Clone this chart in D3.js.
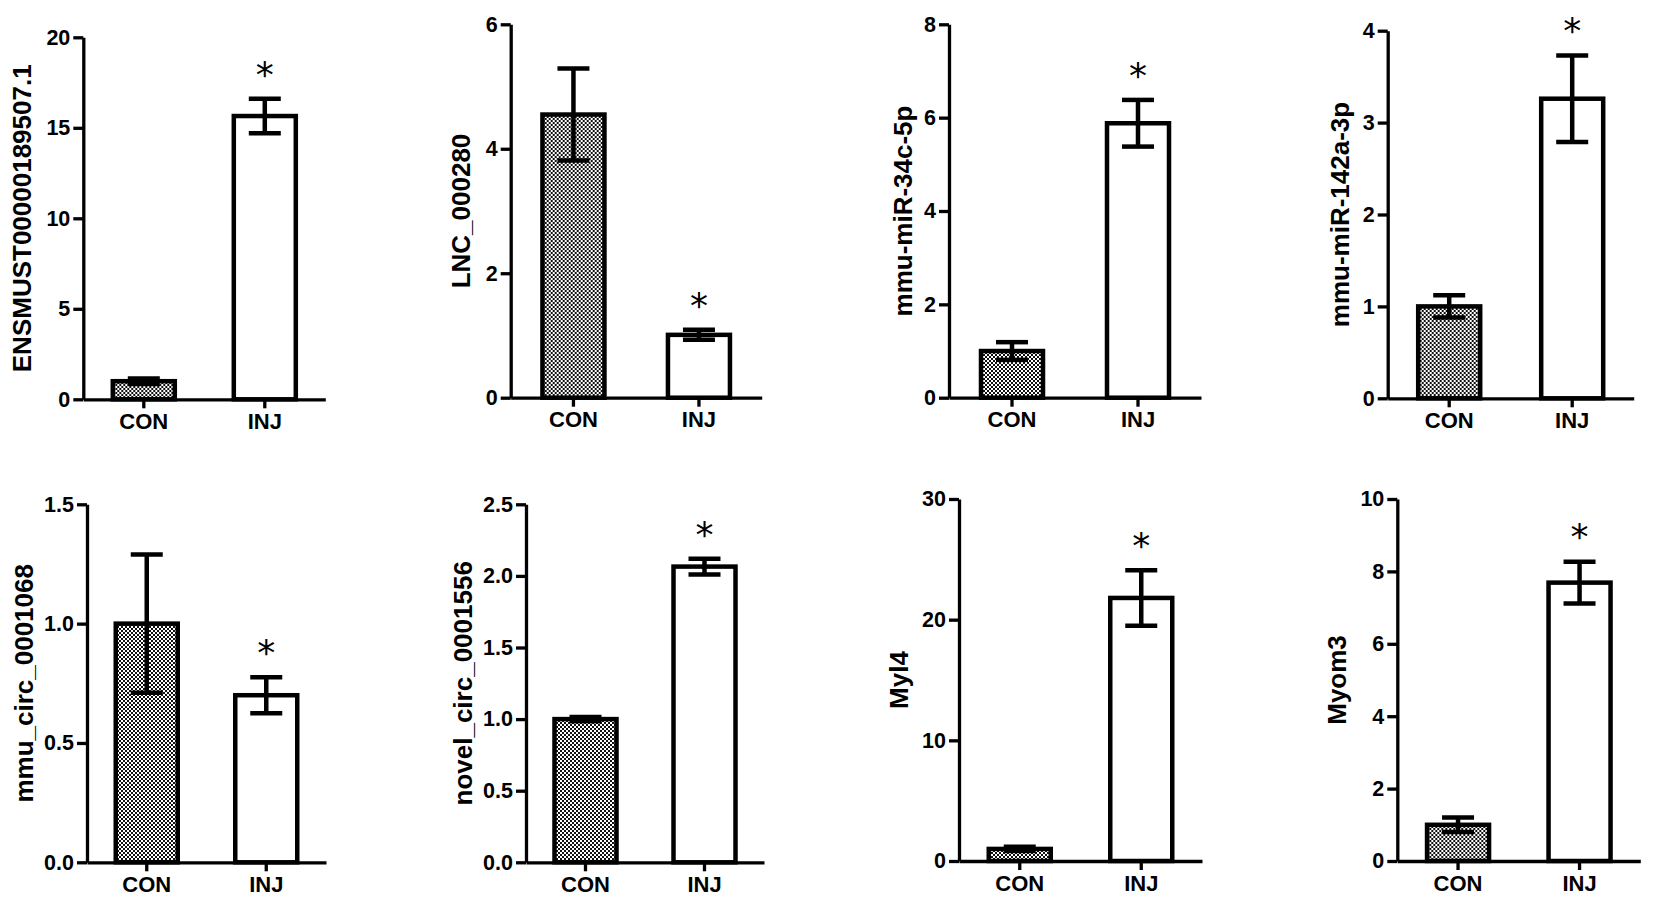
<!DOCTYPE html>
<html>
<head>
<meta charset="utf-8">
<script src="https://cdn.jsdelivr.net/npm/d3@7"></script>
<style>
  body { margin: 0; background: #fff; }
  svg text { font-family: "Liberation Sans", Arial, sans-serif; font-weight: bold; fill: #000; }
  svg text.star { font-family: "DejaVu Sans", sans-serif; font-weight: normal; }
</style>
</head>
<body>
<div id="chart"></div>
<script>
// data
const groups = ["CON", "INJ"];
const titles = ["ENSMUST00000189507.1", "LNC_000280", "mmu-miR-34c-5p", "mmu-miR-142a-3p",
                "mmu_circ_0001068", "novel_circ_0001556", "Myl4", "Myom3"];
const conMean = [1.0, 4.55, 1.0, 1.0, 1.0, 1.0, 1.0, 1.0];
const conErr  = [0.15, 0.74, 0.19, 0.12, 0.29, 0.015, 0.18, 0.2];
const injMean = [15.65, 1.01, 5.88, 3.26, 0.70, 2.065, 21.8, 7.69];
const injErr  = [0.95, 0.08, 0.5, 0.47, 0.075, 0.055, 2.3, 0.58];
const signif  = [true, true, true, true, true, true, true, true];
const yTicks = [
  [0, 5, 10, 15, 20],
  [0, 2, 4, 6],
  [0, 2, 4, 6, 8],
  [0, 1, 2, 3, 4],
  [0, 0.5, 1.0, 1.5],
  [0, 0.5, 1.0, 1.5, 2.0, 2.5],
  [0, 10, 20, 30],
  [0, 2, 4, 6, 8, 10]
];
const tickFormats = ["d", "d", "d", "d", ".1f", ".1f", "d", "d"];

// panel frames (axis x, top of y axis, zero line, x axis length, title offset)
const frames = [
  {ax: 83.3,   top: 37.3,  zero: 399.3, w: 242, tdx: -61},
  {ax: 510.7,  top: 24.3,  zero: 397.7, w: 251, tdx: -50},
  {ax: 949,    top: 24.3,  zero: 397.7, w: 252, tdx: -46.5},
  {ax: 1387.7, top: 30.7,  zero: 398.3, w: 246, tdx: -47.7},
  {ax: 87,     top: 504.3, zero: 862.3, w: 239, tdx: -63},
  {ax: 526,    top: 504.3, zero: 862.3, w: 238, tdx: -63.5},
  {ax: 959,    top: 499,   zero: 861,   w: 243, tdx: -60},
  {ax: 1397.3, top: 499,   zero: 861,   w: 243, tdx: -60}
];

const svg = d3.select("#chart").append("svg")
  .attr("width", 1654)
  .attr("height", 906);

// checker fill for the control bars
const pat = svg.append("defs").append("pattern")
  .attr("id", "checker")
  .attr("patternUnits", "userSpaceOnUse")
  .attr("width", 4).attr("height", 4);
pat.append("rect").attr("width", 4).attr("height", 4).attr("fill", "#fff");
pat.append("rect").attr("width", 2).attr("height", 2).attr("fill", "#111");
pat.append("rect").attr("x", 2).attr("y", 2).attr("width", 2).attr("height", 2).attr("fill", "#111");

titles.forEach((title, i) => {
  const f = frames[i];
  const ticks = yTicks[i];
  const g = svg.append("g").attr("transform", `translate(${f.ax},0)`);

  const y = d3.scaleLinear()
    .domain([0, ticks[ticks.length - 1]])
    .range([f.zero, f.top]);

  const pin = 1 - 124 / f.w;
  const x = d3.scaleBand()
    .domain(groups)
    .range([0, f.w])
    .paddingInner(pin)
    .paddingOuter(pin / 2);

  const rows = groups.map((grp, k) => ({
    grp: grp,
    mean: k === 0 ? conMean[i] : injMean[i],
    err: k === 0 ? conErr[i] : injErr[i]
  }));

  // bars
  g.selectAll(".bar")
    .data(rows)
    .enter().append("rect")
    .attr("class", "bar")
    .attr("x", d => x(d.grp))
    .attr("y", d => y(d.mean))
    .attr("width", x.bandwidth())
    .attr("height", d => y(0) - y(d.mean))
    .attr("fill", d => d.grp === "CON" ? "url(#checker)" : "#fff")
    .attr("stroke", "#000")
    .attr("stroke-width", 4.5);

  // error bars
  const eb = g.selectAll(".err")
    .data(rows)
    .enter().append("g")
    .attr("class", "err")
    .attr("stroke", "#000")
    .attr("stroke-width", 4.5);
  const cx = d => x(d.grp) + x.bandwidth() / 2;
  eb.append("line")
    .attr("x1", cx).attr("x2", cx)
    .attr("y1", d => y(d.mean - d.err))
    .attr("y2", d => y(d.mean + d.err));
  eb.append("line")
    .attr("x1", d => cx(d) - 16).attr("x2", d => cx(d) + 16)
    .attr("y1", d => y(d.mean + d.err)).attr("y2", d => y(d.mean + d.err));
  eb.append("line")
    .attr("x1", d => cx(d) - 16).attr("x2", d => cx(d) + 16)
    .attr("y1", d => y(d.mean - d.err)).attr("y2", d => y(d.mean - d.err));

  // axes
  const yAxis = g.append("g")
    .call(d3.axisLeft(y).tickValues(ticks).tickFormat(d3.format(tickFormats[i]))
      .tickSize(10).tickSizeOuter(0).tickPadding(3));
  const xAxis = g.append("g")
    .attr("transform", `translate(0,${f.zero})`)
    .call(d3.axisBottom(x).tickSize(9).tickSizeOuter(0).tickPadding(5));
  [yAxis, xAxis].forEach(a => {
    a.select(".domain").attr("stroke-width", 3.3);
    a.selectAll(".tick line").attr("stroke-width", 3.3);
  });
  yAxis.selectAll("text").attr("font-size", 21.5);
  xAxis.selectAll("text").attr("font-size", 22);

  // axis title
  g.append("text")
    .attr("transform", "rotate(-90)")
    .attr("x", -(f.top + f.zero) / 2)
    .attr("y", f.tdx)
    .attr("text-anchor", "middle")
    .attr("dominant-baseline", "central")
    .attr("font-size", 26)
    .text(title);

  // significance star above the INJ bar
  if (signif[i]) {
    const inj = rows[1];
    const size = 36;
    g.append("text")
      .attr("class", "star")
      .attr("x", cx(inj))
      .attr("y", y(inj.mean + inj.err) - 32 + 0.55 * size)
      .attr("text-anchor", "middle")
      .attr("font-size", size)
      .text("*");
  }
});
</script>
</body>
</html>
